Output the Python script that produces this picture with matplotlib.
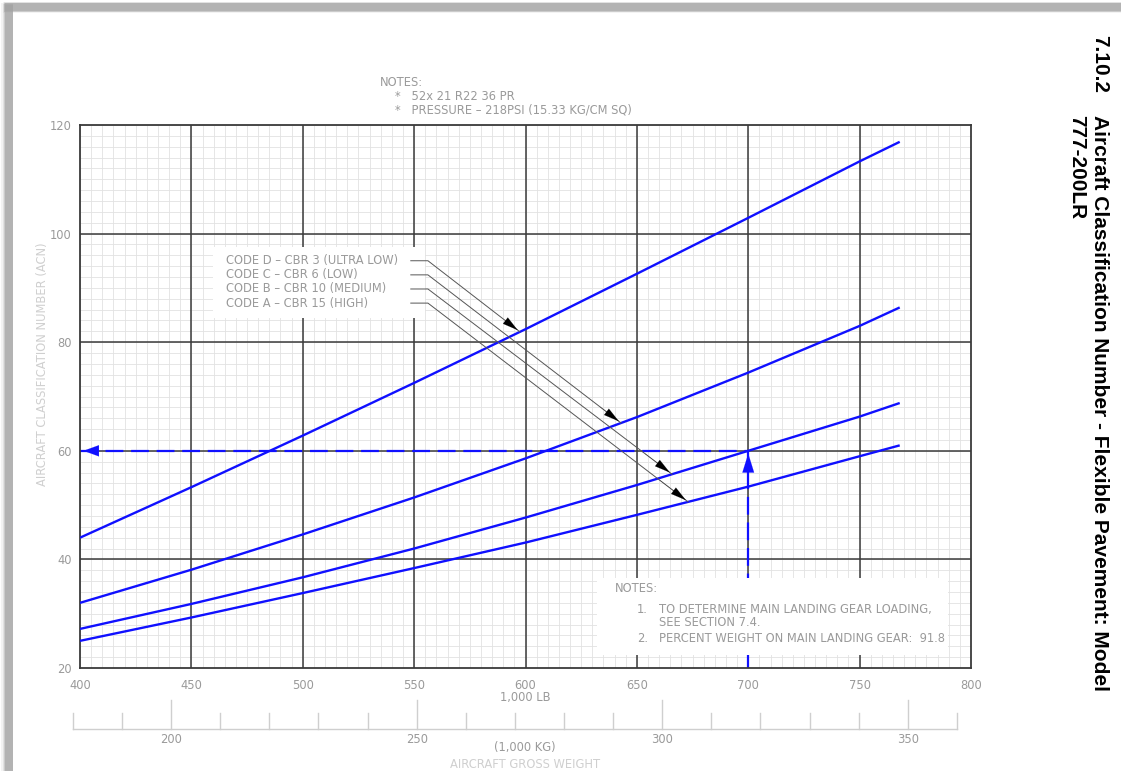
import numpy as np
import matplotlib
matplotlib.use("Agg")
import matplotlib.pyplot as plt
from matplotlib.patches import Rectangle

# --- data ---
weight_lb = [400, 450, 500, 550, 600, 650, 700, 750, 768]
acn_d = [44.0, 53.3, 62.8, 72.5, 82.4, 92.6, 102.9, 113.3, 116.9]   # CBR 3
acn_c = [32.0, 38.1, 44.6, 51.4, 58.6, 66.2, 74.4, 83.0, 86.4]      # CBR 6
acn_b = [27.2, 31.8, 36.7, 42.0, 47.7, 53.7, 60.0, 66.3, 68.8]      # CBR 10
acn_a = [25.0, 29.3, 33.8, 38.4, 43.1, 48.2, 53.4, 59.0, 61.0]      # CBR 15

code_labels = ["CODE D \u2013 CBR 3 (ULTRA LOW)", "CODE C \u2013 CBR 6 (LOW)",
               "CODE B \u2013 CBR 10 (MEDIUM)", "CODE A \u2013 CBR 15 (HIGH)"]
arrow_tip_lb = [597.5, 642.9, 665.8, 673.0]

example_lb = 700
example_acn = 60

kg_ticks_major = [200, 250, 300, 350]
kg_range = (180, 360)
LB_PER_KG = 2.20462

W, H = 1121, 771
GRAY = "#9a9a9a"
LIGHT = "#cfcfcf"
BLUE = "#1010ff"
FS = 8.3

fig = plt.figure(figsize=(W / 100, H / 100), dpi=100, facecolor="white")

def fx(x):
    return x / W

def fy(y):
    return 1 - y / H

# --- page shadow frame (top + left), soft edges ---
for i, a in enumerate([0.2, 0.35, 0.6, 1.0]):
    off = 1.5 - i * 0.5
    fig.add_artist(Rectangle((fx(3 + i * 0.5), fy(11 + off)), 1, (8 + 2 * off) / H,
                             transform=fig.transFigure, color="#a3a3a3", alpha=a * 0.6,
                             lw=0, zorder=-5))
    fig.add_artist(Rectangle((fx(3 + i * 0.5 - off), 0), (8 + 2 * off) / W, fy(3 + i * 0.5),
                             transform=fig.transFigure, color="#a3a3a3", alpha=a * 0.6,
                             lw=0, zorder=-5))

# --- main axes ---
ax = fig.add_axes([fx(80), fy(668), fx(971) - fx(80), fy(125) - fy(668)])
ax.set_xlim(400, 800)
ax.set_ylim(20, 120)
ax.set_xticks(np.arange(400, 801, 50))
ax.set_yticks(np.arange(20, 121, 20))

# grid drawn by hand so the heavy lines sit on top of the light ones
ax.vlines(np.arange(400, 801, 5), 20, 120, color="#e2e2e2", lw=0.6, zorder=0.2)
ax.hlines(np.arange(20, 121, 2), 400, 800, color="#e2e2e2", lw=0.6, zorder=0.2)
ax.vlines(np.arange(450, 800, 50), 20, 120, color="#3a3a3a", lw=1.1, zorder=0.6)
ax.hlines(np.arange(40, 120, 20), 400, 800, color="#3a3a3a", lw=1.1, zorder=0.6)

for s in ax.spines.values():
    s.set_color("#3a3a3a")
    s.set_linewidth(1.3)
ax.tick_params(which="both", length=0, colors=GRAY, labelsize=FS)
ax.tick_params(axis="x", pad=8)
ax.tick_params(axis="y", pad=6)
ax.set_ylabel("AIRCRAFT CLASSIFICATION NUMBER (ACN)", color=LIGHT, fontsize=FS)
ax.yaxis.set_label_coords((fx(49) - fx(80)) / (fx(971) - fx(80)),
                          (fy(364) - fy(668)) / (fy(125) - fy(668)))

# example dashed lines
ax.plot([400, example_lb], [example_acn, example_acn], color=BLUE, lw=1.6,
        dashes=(8, 3.5), zorder=2)
ax.plot([example_lb, example_lb], [20, example_acn], color=BLUE, lw=1.6,
        dashes=(8, 3.5), zorder=2)
ax.annotate("", xy=(400.3, example_acn), xytext=(415, example_acn),
            arrowprops=dict(arrowstyle="-|>,head_length=1.1,head_width=0.4",
                            color=BLUE, lw=0.1), zorder=6)
ax.annotate("", xy=(example_lb, example_acn), xytext=(example_lb, example_acn - 5),
            arrowprops=dict(arrowstyle="-|>,head_length=1.35,head_width=0.42",
                            color=BLUE, lw=0.1), zorder=6)

# white boxes behind the labels and notes
ax.add_patch(Rectangle((459.7, 84.5), 554.9 - 459.7, 97.5 - 84.5, color="white", lw=0, zorder=3))
ax.add_patch(Rectangle((632.1, 22.4), 789.7 - 632.1, 36.6 - 22.4, color="white", lw=0, zorder=3))

# curves
for vals in [acn_d, acn_c, acn_b, acn_a]:
    ax.plot(weight_lb, vals, color=BLUE, lw=1.7, zorder=4, solid_capstyle="butt")

# legend labels with leader arrows
label_y = [95.0, 92.4, 89.8, 87.2]
for lab, ly, tip, vals in zip(code_labels, label_y, arrow_tip_lb, [acn_d, acn_c, acn_b, acn_a]):
    ax.text(465.5, ly, lab, color=GRAY, fontsize=FS, va="center", ha="left", zorder=5)
    ty = np.interp(tip, weight_lb, vals)
    ax.plot([548.5, 556.2, tip], [ly, ly, ty], color="#555555", lw=0.7, zorder=5)
    ax.annotate("", xy=(tip, ty), xytext=(tip - 0.12 * (tip - 556.2), ty + 0.12 * (ly - ty)),
                arrowprops=dict(arrowstyle="-|>,head_length=1.1,head_width=0.28",
                                color="black", lw=0.1), zorder=6)

# notes inside chart
ax.text(640.2, 34.7, "NOTES:", color=GRAY, fontsize=FS, va="center", zorder=5)
ax.text(650.1, 30.7, "1.", color=GRAY, fontsize=FS, va="center", zorder=5)
ax.text(659.9, 30.7, "TO DETERMINE MAIN LANDING GEAR LOADING,", color=GRAY, fontsize=FS,
        va="center", zorder=5)
ax.text(659.9, 28.3, "SEE SECTION 7.4.", color=GRAY, fontsize=FS, va="center", zorder=5)
ax.text(650.1, 25.5, "2.", color=GRAY, fontsize=FS, va="center", zorder=5)
ax.text(659.9, 25.5, "PERCENT WEIGHT ON MAIN LANDING GEAR:  91.8", color=GRAY, fontsize=FS,
        va="center", zorder=5)

# top notes
fig.text(fx(380), fy(82), "NOTES:", color=GRAY, fontsize=FS, va="center")
fig.text(fx(395), fy(96), "*   52x 21 R22 36 PR", color=GRAY, fontsize=FS, va="center")
fig.text(fx(395), fy(110), "*   PRESSURE \u2013 218PSI (15.33 KG/CM SQ)", color=GRAY,
         fontsize=FS, va="center")

fig.text(fx(525), fy(697), "1,000 LB", color=GRAY, fontsize=FS, ha="center", va="center")

# --- kg ruler ---
axk = fig.add_axes([fx(80), fy(729), fx(971) - fx(80), fy(700) - fy(729)])
axk.set_xlim(400 / LB_PER_KG, 800 / LB_PER_KG)
axk.set_ylim(0, 1)
axk.patch.set_alpha(0)
for s in axk.spines.values():
    s.set_visible(False)
axk.set_yticks([])
kg_all = np.arange(kg_range[0], kg_range[1] + 1, 10)
axk.plot([kg_range[0], kg_range[1]], [0, 0], color=LIGHT, lw=1.0, clip_on=False)
for k in kg_all:
    top = 1.0 if k in kg_ticks_major else 0.55
    axk.plot([k, k], [0, top], color=LIGHT, lw=1.0, clip_on=False)
axk.set_xticks(kg_ticks_major)
axk.tick_params(axis="x", length=0, colors=GRAY, labelsize=FS, pad=3)

fig.text(fx(525), fy(748), "(1,000 KG)", color=GRAY, fontsize=FS, ha="center", va="center")
fig.text(fx(525), fy(765), "AIRCRAFT GROSS WEIGHT", color=LIGHT, fontsize=FS, ha="center",
         va="center")

# --- title on the right ---
title_font = dict(fontsize=15, fontweight="bold", family=["Liberation Sans", "DejaVu Sans"],
                  rotation=-90, ha="center", va="top", color="black")
fig.text(fx(1100), fy(35), "7.10.2", **title_font)
fig.text(fx(1100), fy(115), "Aircraft Classification Number - Flexible Pavement: Model",
         **title_font)
fig.text(fx(1077), fy(115), "777-200LR", **title_font)

fig.savefig("out.png", dpi=100, facecolor="white")
